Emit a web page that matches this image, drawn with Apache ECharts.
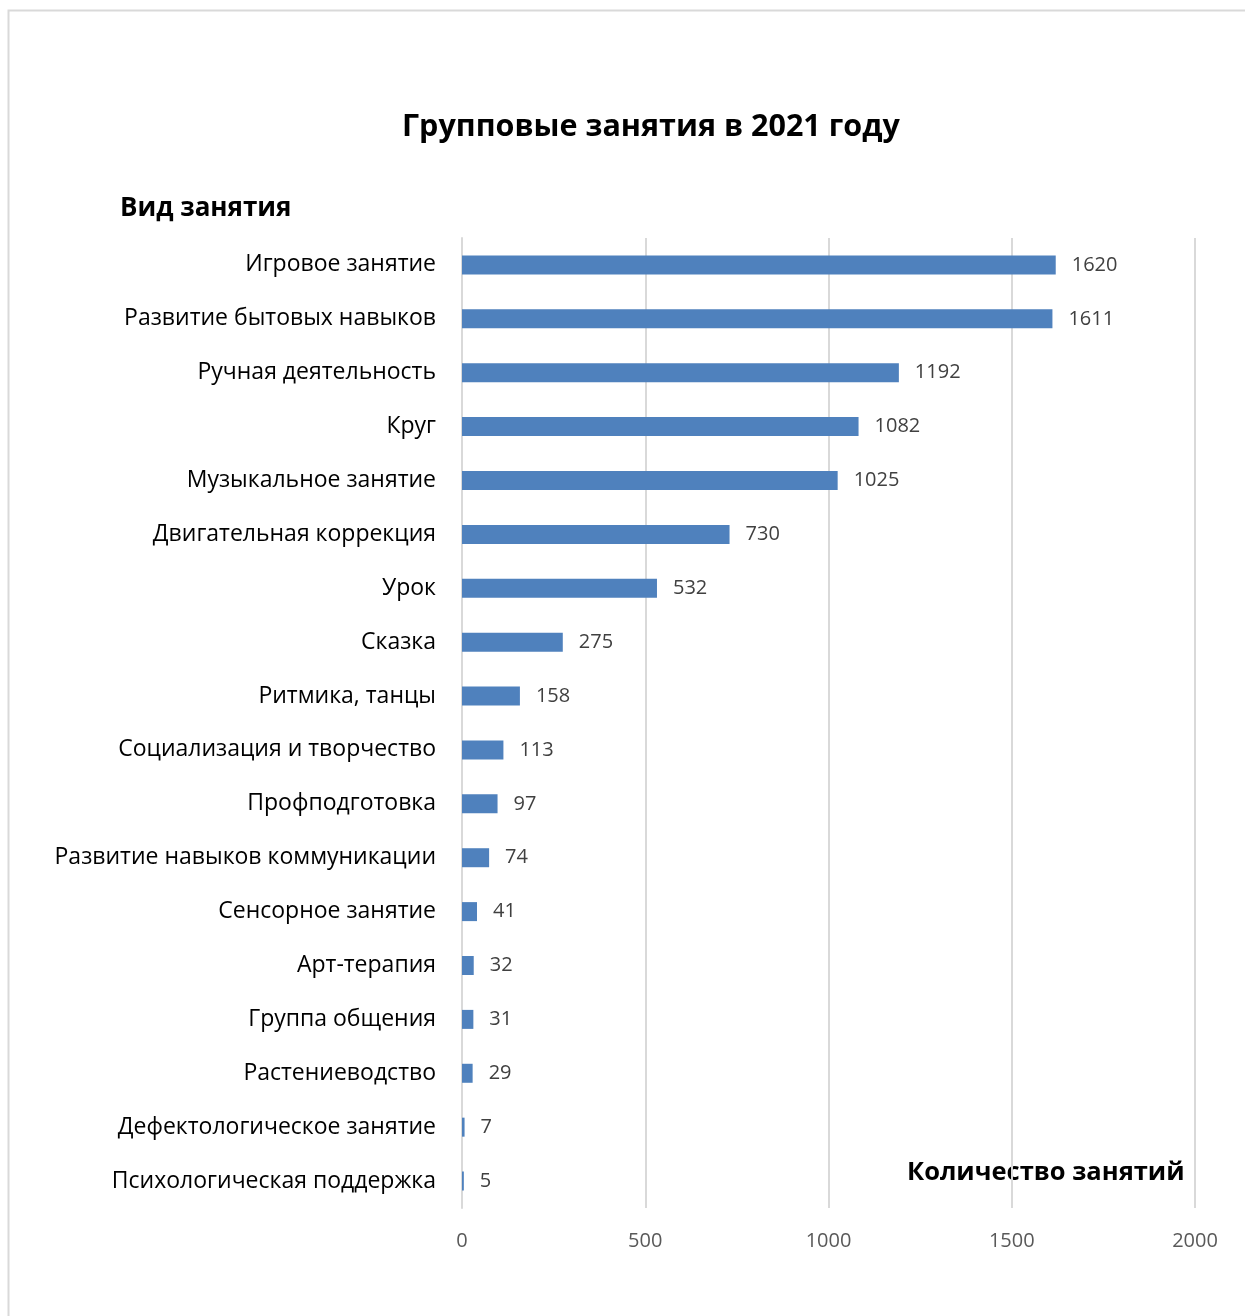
<!DOCTYPE html>
<html><head><meta charset="utf-8">
<script src="https://cdn.jsdelivr.net/npm/echarts@6/dist/echarts.min.js"></script>
<style>html,body{margin:0;padding:0;background:#fff;}#c{width:1245px;height:1316px;}</style>
</head><body><div id="c"></div>
<script>
const categories = ["Игровое занятие","Развитие бытовых навыков","Ручная деятельность","Круг","Музыкальное занятие","Двигательная коррекция","Урок","Сказка","Ритмика, танцы","Социализация и творчество","Профподготовка","Развитие навыков коммуникации","Сенсорное занятие","Арт-терапия","Группа общения","Растениеводство","Дефектологическое занятие","Психологическая поддержка"];
const values = [1620,1611,1192,1082,1025,730,532,275,158,113,97,74,41,32,31,29,7,5];
const xTicks = [0,500,1000,1500,2000];
const FONT = '"Open Sans", "Noto Sans", sans-serif';
const chart = echarts.init(document.getElementById('c'));
chart.setOption({
  animation:false,
  backgroundColor:'#fff',
  textStyle:{fontFamily:FONT},
  graphic:[
    {type:'rect',shape:{x:8.5,y:10.5,width:1300,height:1400},style:{fill:'none',stroke:'#d9d9d9',lineWidth:2},silent:true,z:-1},
    {type:'text',left:402,top:112,style:{text:'Групповые занятия в 2021 году',font:'bold 30.5px '+FONT,fill:'#000'}},
    {type:'text',left:120,top:196,style:{text:'Вид занятия',font:'bold 26px '+FONT,fill:'#000'}},
    {type:'text',left:907,top:1160,style:{text:'Количество занятий',font:'bold 25.5px '+FONT,fill:'#000'}}
  ],
  grid:{left:462,right:50,top:238,bottom:108,containLabel:false},
  xAxis:{type:'value',min:0,max:2000,interval:500,
    axisLine:{show:false},axisTick:{show:false},
    axisLabel:{color:'#595959',fontSize:20,margin:23,fontFamily:FONT,
      formatter:v=>xTicks.includes(v)?String(v):''},
    splitLine:{lineStyle:{color:'#d9d9d9',width:2}}},
  yAxis:{type:'category',data:categories,inverse:true,
    axisLine:{lineStyle:{color:'#d9d9d9',width:2}},axisTick:{show:false},
    axisLabel:{color:'#000',fontSize:23,margin:26,fontFamily:FONT,padding:[6,0,0,0]}},
  series:[{type:'bar',data:values,barWidth:19,
    itemStyle:{color:'#4F81BD'},
    label:{show:true,position:'right',distance:16,color:'#404040',fontSize:20,fontFamily:FONT,padding:[6,0,0,0]}}]
});
</script></body></html>
